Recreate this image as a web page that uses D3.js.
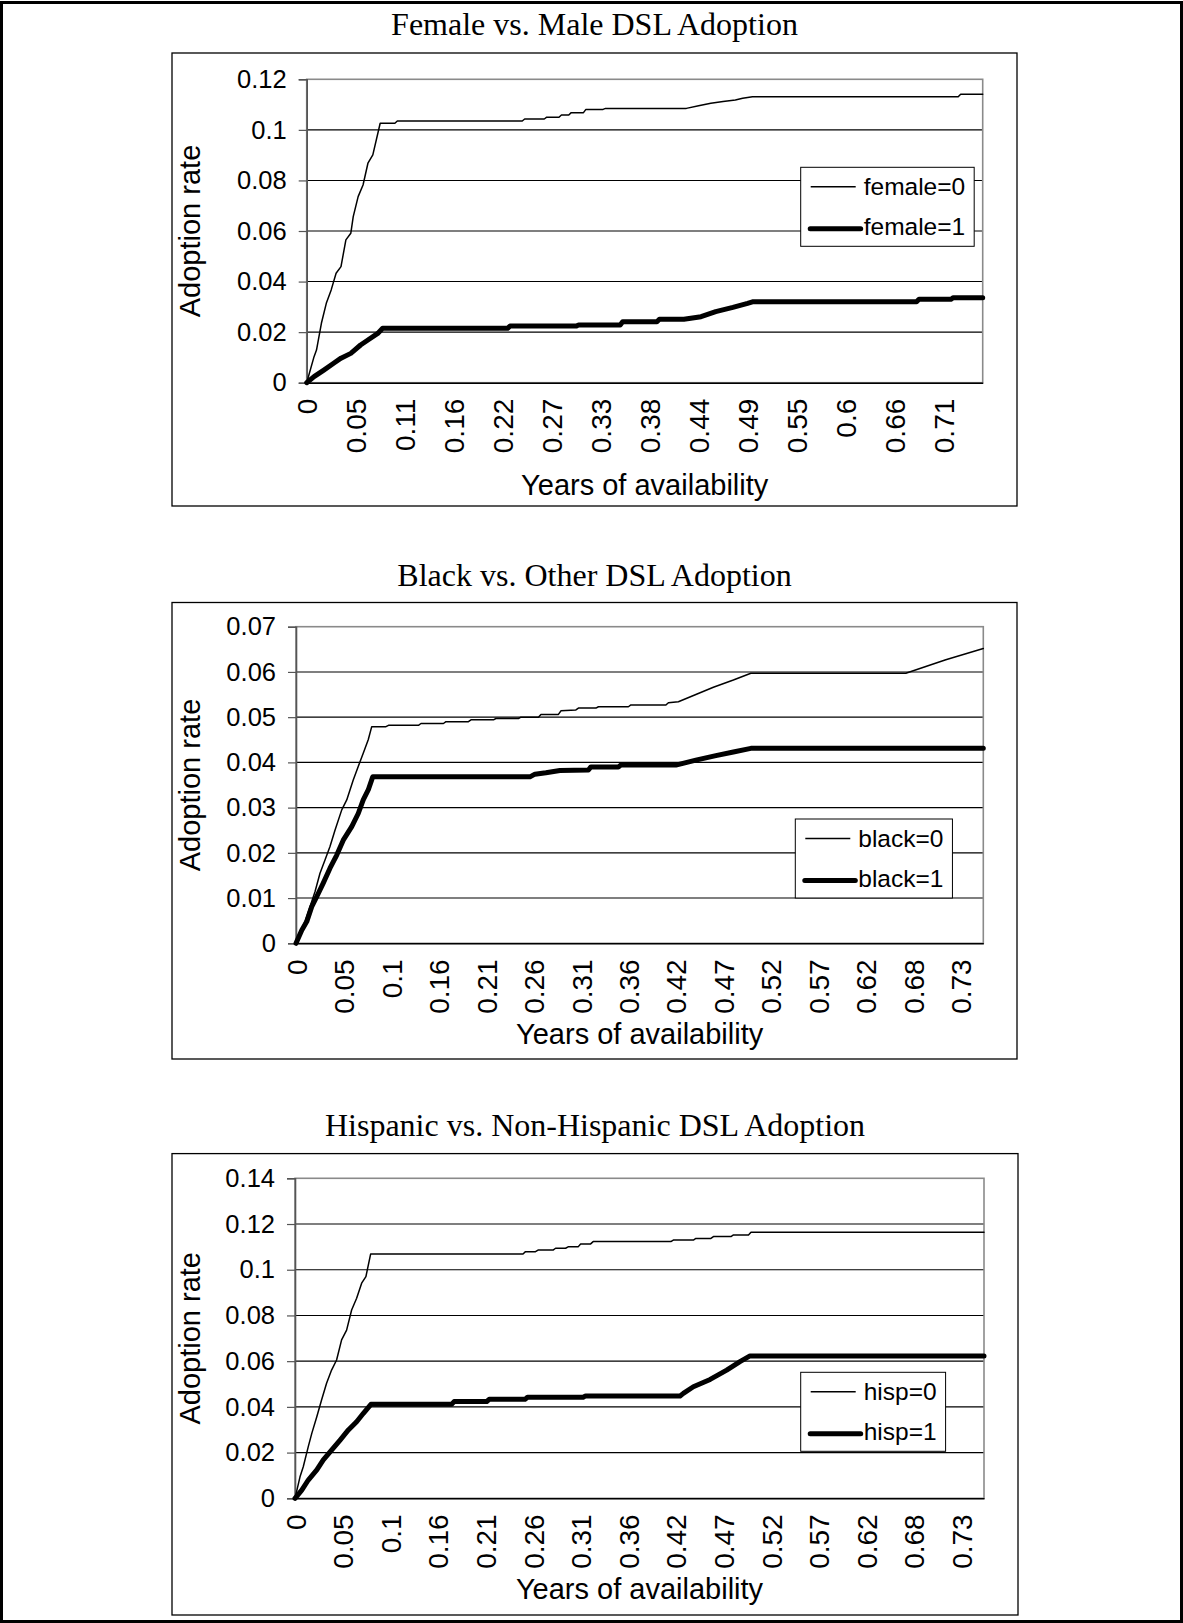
<!DOCTYPE html>
<html>
<head>
<meta charset="utf-8">
<script src="https://cdn.jsdelivr.net/npm/d3@7"></script>
<style>
  html, body { margin: 0; padding: 0; background: #fff; }
  svg { display: block; }
</style>
</head>
<body>
<script>
// ---------------- DATA ----------------
const titles = [
  "Female vs. Male DSL Adoption",
  "Black vs. Other DSL Adoption",
  "Hispanic vs. Non-Hispanic DSL Adoption"
];
const legendNames1 = ["female=0", "female=1"];
const legendNames2 = ["black=0", "black=1"];
const legendNames3 = ["hisp=0", "hisp=1"];

// x tick labels (years of availability), one label every N days
const xLabels1 = ["0","0.05","0.11","0.16","0.22","0.27","0.33","0.38","0.44","0.49","0.55","0.6","0.66","0.71"];
const xLabels23 = ["0","0.05","0.1","0.16","0.21","0.26","0.31","0.36","0.42","0.47","0.52","0.57","0.62","0.68","0.73"];
const xLabelEveryDays = [20, 19, 19];
const lastDay = [276, 275, 275];

const yTicks1 = [0, 0.02, 0.04, 0.06, 0.08, 0.1, 0.12];
const yLabels1 = ["0","0.02","0.04","0.06","0.08","0.1","0.12"];
const yTicks2 = [0, 0.01, 0.02, 0.03, 0.04, 0.05, 0.06, 0.07];
const yLabels2 = ["0","0.01","0.02","0.03","0.04","0.05","0.06","0.07"];
const yTicks3 = [0, 0.02, 0.04, 0.06, 0.08, 0.1, 0.12, 0.14];
const yLabels3 = ["0","0.02","0.04","0.06","0.08","0.1","0.12","0.14"];

// series: [day, adoption rate]
const female0 = [[0,0],[3,0.0103],[4,0.0129],[6,0.0235],[8,0.0314],[10,0.0367],[12,0.0433],[14,0.0459],[16,0.0565],[18,0.0591],[19,0.0657],[21,0.0736],[23,0.0782],[25,0.0868],[27,0.0901],[30,0.1026],[36,0.1026],[37,0.1035],[88,0.1035],[89,0.1043],[97,0.1043],[98,0.105],[103,0.105],[104,0.1059],[107,0.1059],[108,0.1068],[113,0.1068],[114,0.1081],[121,0.1081],[122,0.1085],[155,0.1085],[160,0.1095],[165,0.1105],[170,0.1112],[175,0.1118],[178,0.1125],[182,0.1131],[266,0.1131],[267,0.1141],[276,0.1141]];
const female1 = [[0,0],[3,0.0024],[7,0.005],[11,0.0077],[14,0.0097],[18,0.0116],[22,0.0149],[25,0.0169],[29,0.0195],[31,0.0215],[82,0.0215],[83,0.0224],[110,0.0224],[111,0.0228],[128,0.0228],[129,0.0241],[143,0.0241],[144,0.0251],[154,0.0251],[161,0.0261],[167,0.0281],[174,0.0298],[180,0.0314],[182,0.032],[249,0.032],[250,0.033],[263,0.033],[264,0.0336],[276,0.0336]];

const black0 = [[0,0],[1.6,0.0022],[3.6,0.0048],[5.6,0.0081],[7.6,0.0114],[9.6,0.0155],[11.6,0.0184],[13.6,0.0214],[15.6,0.025],[18.3,0.0295],[20.3,0.0317],[22.9,0.0361],[24.9,0.0391],[26.9,0.042],[28.9,0.045],[30.3,0.0479],[36,0.0479],[37,0.0482],[49,0.0482],[50,0.0486],[59,0.0486],[60,0.049],[69,0.049],[70,0.0494],[79,0.0494],[80,0.0497],[89,0.0497],[90,0.05],[97,0.05],[98,0.0506],[105,0.0506],[106,0.0514],[112,0.0516],[113,0.052],[120,0.052],[121,0.0523],[133,0.0523],[134,0.0527],[148,0.0527],[149,0.0532],[153,0.0534],[160,0.055],[167,0.0566],[175,0.0582],[182,0.0597],[244,0.0597],[252,0.0612],[260,0.0627],[268,0.064],[275,0.0652]];
const black1 = [[0,0],[2.3,0.0029],[4.3,0.0048],[6.3,0.0081],[8.3,0.0103],[10.9,0.0133],[13.6,0.0166],[16.3,0.0195],[18.9,0.0228],[22.3,0.0258],[24.9,0.0287],[26.9,0.0317],[28.9,0.0339],[30.7,0.0368],[93.6,0.0368],[95.6,0.0374],[100,0.0377],[105.6,0.0382],[117,0.0383],[118,0.039],[129,0.039],[130,0.0394],[152,0.0394],[160,0.0405],[168,0.0415],[175,0.0423],[182,0.0431],[275,0.0431]];

const hisp0 = [[0,0],[2,0.0094],[3.3,0.0138],[5.3,0.0226],[6.7,0.0284],[8.7,0.0357],[10.6,0.043],[12.6,0.0503],[14.6,0.0561],[16.6,0.0605],[18.6,0.0693],[20.6,0.0736],[22.6,0.0824],[24.6,0.0875],[26.6,0.0941],[28.3,0.097],[30.2,0.1069],[91,0.1069],[92,0.1079],[96,0.1079],[97,0.1086],[103,0.1086],[104,0.1094],[108,0.1094],[109,0.11],[113,0.11],[114,0.1113],[118,0.1113],[119,0.1123],[150,0.1123],[151,0.113],[159,0.113],[160,0.1137],[166,0.1137],[167,0.1145],[174,0.1145],[175,0.1152],[181,0.1152],[182,0.1164],[275,0.1164]];
const hisp1 = [[0,0],[2.7,0.0036],[5.3,0.008],[8.7,0.0124],[11.3,0.0168],[14.6,0.0211],[18,0.0255],[21.3,0.0299],[24.6,0.0335],[27.3,0.0372],[30.3,0.0411],[62.5,0.0411],[63.5,0.0423],[76.5,0.0423],[77.5,0.0433],[91.8,0.0433],[92.8,0.0442],[115,0.0442],[116,0.0448],[153.7,0.0448],[155,0.0459],[159,0.0488],[165.7,0.052],[172.3,0.0561],[177.6,0.0598],[181.6,0.0623],[275,0.0623]];

const xTitle = "Years of availability";
const yTitle = "Adoption rate";

// ---------------- LAYOUT ----------------
const W = 1183, H = 1623;
const SANS = "'Liberation Sans', Arial, sans-serif";
const SERIF = "'Liberation Serif', 'Times New Roman', serif";

const layouts = [
  { box:[172,53,1017,506],   plot:[306.7,79.3,982.7,382.7],  titleY:35,   xTitleY:495,  legend:[800.7,167.3] },
  { box:[172,602.5,1017,1059], plot:[296,626.7,983.3,943.3], titleY:585.5, xTitleY:1044, legend:[795.3,819] },
  { box:[172,1153.6,1018,1615], plot:[295,1178.3,984,1498.3], titleY:1136, xTitleY:1599, legend:[800.7,1372.3] }
];

const charts = [
  { title: titles[0], xLabels: xLabels1,  yTicks: yTicks1, yLabels: yLabels1, series: [female0, female1], names: legendNames1 },
  { title: titles[1], xLabels: xLabels23, yTicks: yTicks2, yLabels: yLabels2, series: [black0, black1],   names: legendNames2 },
  { title: titles[2], xLabels: xLabels23, yTicks: yTicks3, yLabels: yLabels3, series: [hisp0, hisp1],     names: legendNames3 }
];

const lineWidths = [1.5, 5];

const svg = d3.select("body").append("svg")
  .attr("width", W).attr("height", H)
  .attr("viewBox", `0 0 ${W} ${H}`);

svg.append("rect").attr("x", 0).attr("y", 0).attr("width", W).attr("height", H).attr("fill", "#fff");
// outer frame
svg.append("rect").attr("x", 1.5).attr("y", 2.5).attr("width", W - 3).attr("height", H - 4)
  .attr("fill", "none").attr("stroke", "#000").attr("stroke-width", 3);

charts.forEach((c, ci) => {
  const L = layouts[ci];
  const [bx0, by0, bx1, by1] = L.box;
  const [px0, py0, px1, py1] = L.plot;
  const g = svg.append("g");

  // title
  g.append("text").attr("x", (bx0 + bx1) / 2).attr("y", L.titleY)
    .attr("text-anchor", "middle").attr("font-family", SERIF).attr("font-size", 32)
    .attr("fill", "#000").text(c.title);

  // chart box
  g.append("rect").attr("x", bx0).attr("y", by0).attr("width", bx1 - bx0).attr("height", by1 - by0)
    .attr("fill", "#fff").attr("stroke", "#000").attr("stroke-width", 1.3);

  const x = d3.scaleLinear().domain([0, lastDay[ci]]).range([px0, px1]);
  const yMax = c.yTicks[c.yTicks.length - 1];
  const y = d3.scaleLinear().domain([0, yMax]).range([py1, py0]);

  // gridlines
  g.append("g").selectAll("line").data(c.yTicks.filter(v => v > 0 && v < yMax)).join("line")
    .attr("x1", px0).attr("x2", px1).attr("y1", d => y(d)).attr("y2", d => y(d))
    .attr("stroke", "#000").attr("stroke-width", 1.1);

  // plot border (grey)
  g.append("rect").attr("x", px0).attr("y", py0).attr("width", px1 - px0).attr("height", py1 - py0)
    .attr("fill", "none").attr("stroke", "#8a8a8a").attr("stroke-width", 1.6);

  // y axis
  const yAxis = d3.axisLeft(y).tickValues(c.yTicks).tickSize(8).tickPadding(12)
    .tickFormat((d, i) => c.yLabels[i]);
  const ya = g.append("g").attr("transform", `translate(${px0},0)`).call(yAxis);
  ya.select(".domain").attr("stroke", "#555").attr("stroke-width", 1.6);
  ya.selectAll(".tick line").attr("stroke", "#555").attr("stroke-width", 1.2);
  ya.selectAll("text").attr("font-family", SANS).attr("font-size", 25.5).attr("fill", "#000");

  // x axis
  const tickDays = c.xLabels.map((_, i) => i * xLabelEveryDays[ci]);
  const xAxis = d3.axisBottom(x).tickValues(tickDays).tickSize(0)
    .tickFormat((d, i) => c.xLabels[i]);
  const xa = g.append("g").attr("transform", `translate(0,${py1})`).call(xAxis);
  xa.select(".domain").attr("stroke", "#000").attr("stroke-width", 1.4);
  xa.selectAll("text")
    .attr("font-family", SANS).attr("font-size", 28).attr("fill", "#000")
    .attr("transform", "rotate(-90)")
    .attr("text-anchor", "end")
    .attr("x", -16).attr("y", 0).attr("dy", "0.36em");

  // axis titles
  g.append("text").attr("x", (px0 + px1) / 2).attr("y", L.xTitleY)
    .attr("text-anchor", "middle").attr("font-family", SANS).attr("font-size", 29)
    .attr("fill", "#000").text(xTitle);
  g.append("text")
    .attr("transform", `translate(200,${(py0 + py1) / 2}) rotate(-90)`)
    .attr("text-anchor", "middle").attr("font-family", SANS).attr("font-size", 29)
    .attr("fill", "#000").text(yTitle);

  // series lines
  const line = d3.line().x(d => x(d[0])).y(d => y(d[1]));
  c.series.forEach((s, si) => {
    g.append("path").datum(s).attr("d", line)
      .attr("fill", "none").attr("stroke", "#000")
      .attr("stroke-width", lineWidths[si])
      .attr("stroke-linejoin", "round").attr("stroke-linecap", "round");
  });

  // legend
  const [lx, ly] = L.legend;
  const lg = g.append("g").attr("transform", `translate(${lx},${ly})`);
  const box = lg.append("rect").attr("x", 0).attr("y", 0).attr("height", 79)
    .attr("fill", "#fff").attr("stroke", "#000").attr("stroke-width", 1);
  let maxW = 0;
  c.names.forEach((n, i) => {
    const yy = i === 0 ? 19.5 : 61.5;
    lg.append("line").attr("x1", i === 0 ? 10 : 9.5).attr("x2", i === 0 ? 55 : 60)
      .attr("y1", yy).attr("y2", yy).attr("stroke", "#000")
      .attr("stroke-width", lineWidths[i]).attr("stroke-linecap", i === 0 ? "butt" : "round");
    const t = lg.append("text").attr("x", 63).attr("y", i === 0 ? 28 : 68)
      .attr("font-family", SANS).attr("font-size", 24.5).attr("fill", "#000").text(n);
    maxW = Math.max(maxW, t.node().getComputedTextLength());
  });
  box.attr("width", 63 + maxW + 9);
});
</script>
</body>
</html>
